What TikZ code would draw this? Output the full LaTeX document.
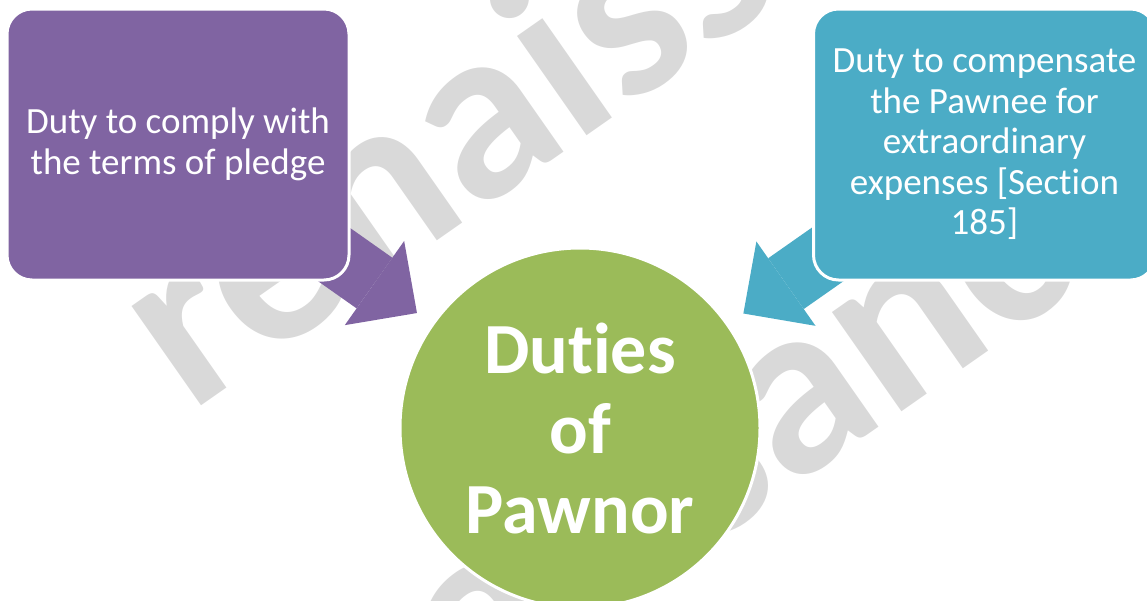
\documentclass[tikz,border=0pt]{standalone}
\usepackage{fontspec}
\setmainfont{Carlito}[Ligatures=NoCommon]
\usetikzlibrary{arrows.meta}
\definecolor{pawnpurple}{HTML}{8064A2}
\definecolor{pawnteal}{HTML}{4BACC6}
\definecolor{pawngreen}{HTML}{9BBB59}
\definecolor{markgrey}{HTML}{D9D9D9}
\pgfdeclarelayer{marklayer}
\pgfdeclarelayer{arrowlayer}
\pgfsetlayers{marklayer,arrowlayer,main}

\begin{document}
\begin{tikzpicture}[x=1pt, y=1pt,
    dutybox/.style={rectangle, rounded corners=25pt, draw=white, line width=3pt,
      minimum width=342pt, minimum height=271pt, text=white, align=center,
      font=\fontsize{37}{40.5}\selectfont},
    pawnarrow/.style={line width=62pt, -{Triangle[width=103pt, length=52pt, line width=0pt]},
      shorten >=18pt},
    markword/.style={text=markgrey, inner sep=0pt, anchor=base west, rotate=35,
      font=\bfseries\fontsize{250}{250}\selectfont}]
        \useasboundingbox (0, 0) rectangle (1147, -600);
        %watermark
        \begin{pgfonlayer}{marklayer}
        \node[markword] (mark1) at (190, -414) {renaissance};
        \node[markword] (mark2) at (190, -910) {renaissance};
        \end{pgfonlayer}
        %nodes
        \node[dutybox, fill=pawnpurple] (comply) at (178, -144.5) {Duty to comply with\\the terms of pledge};
        \node[dutybox, fill=pawnteal] (compensate) at (984.5, -144.5) {Duty to compensate\\the Pawnee for\\extraordinary\\expenses [Section\\185]};
        \node[circle, fill=pawngreen, draw=white, line width=3pt, minimum size=360pt, text=white,
          align=center, font=\bfseries\fontsize{72}{80}\selectfont] (pawnor) at (580, -428) {Duties\\of\\Pawnor};
        %edges
        \begin{pgfonlayer}{arrowlayer}
        \path [draw, pawnpurple, pawnarrow] (comply.center) -- (pawnor);
        \path [draw, pawnteal, pawnarrow] (compensate.center) -- (pawnor);
        \end{pgfonlayer}
\end{tikzpicture}
\end{document}
